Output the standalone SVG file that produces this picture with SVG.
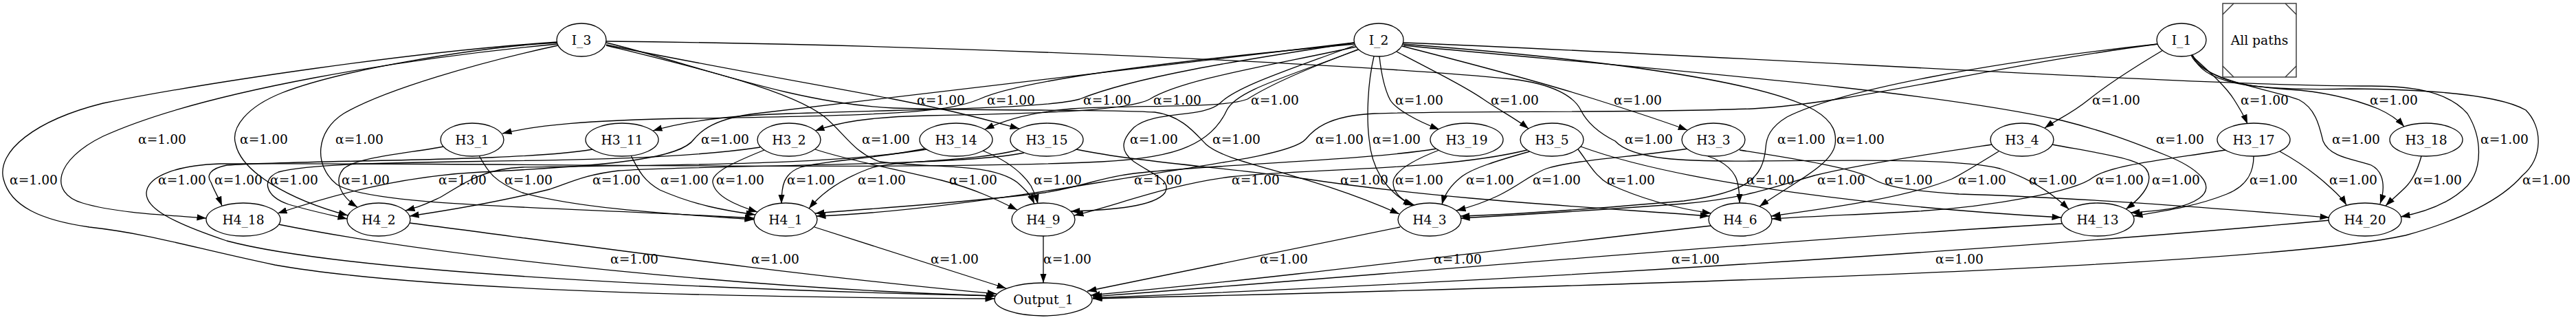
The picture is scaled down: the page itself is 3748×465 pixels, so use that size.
<svg xmlns="http://www.w3.org/2000/svg" width="3748" height="465" viewBox="0 0 3748 465">
<defs>
<marker id="a" viewBox="0 0 14 10" refX="13.5" refY="5" markerWidth="14" markerHeight="10" markerUnits="userSpaceOnUse" orient="auto"><path d="M0,0.3 L13.5,5 L0,9.7 z" fill="#000"/></marker>
<style>
.e path{fill:none;stroke:#000;stroke-width:1.3;marker-end:url(#a)}
text{font-family:"DejaVu Serif","Liberation Serif",serif;font-size:18.67px;text-anchor:middle;fill:#000}
.n ellipse{fill:#fff;stroke:#000;stroke-width:1.3}
</style>
</defs>
<rect width="3748" height="465" fill="#fff"/>
<g id="connectors" class="e">
<g id="e_I_3_H3_15"><path d="M882,65 C1000,90 1200,125 1300,144 S1450,178 1483,187"/><text x="1369" y="152">α=1.00</text></g>
<g id="e_I_2_H3_1"><path d="M1971,64 C1800,80 1500,110 1425,144 C1380,163 1300,168 1000,172 C850,175 780,182 731,194"/><text x="1471" y="152">α=1.00</text></g>
<g id="e_I_2_H3_11"><path d="M1971,62 C1800,88 1650,112 1571,144 C1520,158 1350,158 1150,165 C1050,168 990,178 950,190"/><text x="1611" y="152">α=1.00</text></g>
<g id="e_I_2_H3_2"><path d="M1973,68 C1850,95 1720,115 1673,144 C1640,162 1500,165 1350,168 C1260,170 1220,178 1186,190"/><text x="1713" y="152">α=1.00</text></g>
<g id="e_I_2_H3_14"><path d="M1977,72 C1900,100 1850,122 1815,144 C1780,158 1650,152 1560,158 C1500,163 1460,175 1433,188"/><text x="1855" y="152">α=1.00</text></g>
<g id="e_I_2_H3_19"><path d="M2007,82 C2010,110 2015,130 2022,144 S2062,176 2094,188"/><text x="2065" y="152">α=1.00</text></g>
<g id="e_I_2_H3_5"><path d="M2032,75 C2090,105 2135,128 2158,144 S2205,172 2224,187"/><text x="2204" y="152">α=1.00</text></g>
<g id="e_I_2_H3_3"><path d="M2040,67 C2150,95 2260,125 2320,144 S2420,176 2455,189"/><text x="2383" y="152">α=1.00</text></g>
<g id="e_I_1_H3_4"><path d="M3147,73 C3110,95 3070,120 3040,144 S2995,172 2975,186"/><text x="3079" y="152">α=1.00</text></g>
<g id="e_I_1_H3_17"><path d="M3188,80 C3215,105 3238,125 3250,144 S3266,170 3270,180"/><text x="3295" y="152">α=1.00</text></g>
<g id="e_I_1_H3_18"><path d="M3190,80 C3210,115 3260,125 3330,130 C3380,133 3420,142 3460,158 C3478,166 3490,175 3498,184"/><text x="3483" y="152">α=1.00</text></g>
<g id="e_I_3_H4_18"><path d="M811,64 C600,84 300,130 150,198 C80,232 70,280 120,295 C170,310 250,313 300,317"/><text x="236" y="209">α=1.00</text></g>
<g id="e_I_3_H4_2"><path d="M812,62 C700,68 500,100 410,135 C360,155 335,185 343,210 C352,250 420,290 506,313"/><text x="384" y="209">α=1.00</text></g>
<g id="e_I_3_H4_1"><path d="M812,66 C700,90 560,130 500,165 C460,190 455,240 490,268 C540,300 800,300 1097,317"/><text x="523" y="209">α=1.00</text></g>
<g id="e_I_2_H4_18"><path d="M1970,62 C1700,95 1300,140 1100,165 C1040,172 1020,190 1010,202 C990,230 900,240 700,250 C580,256 480,285 404,310"/><text x="1055" y="209">α=1.00</text></g>
<g id="e_I_3_H4_9"><path d="M882,66 C1000,95 1150,130 1200,170 C1230,195 1240,220 1280,235 C1350,245 1440,235 1480,265 C1495,278 1500,285 1505,296"/><text x="1289" y="209">α=1.00</text></g>
<g id="e_I_2_H4_9"><path d="M1971,66 C1880,100 1800,125 1775,150 C1750,172 1680,160 1650,185 C1630,205 1630,220 1650,235 C1680,255 1705,262 1695,280 C1680,300 1620,305 1558,307"/><text x="1679" y="209">α=1.00</text></g>
<g id="e_I_3_H4_3"><path d="M882,62 C1000,90 1150,150 1300,157 C1450,162 1600,158 1680,163 C1720,168 1740,195 1755,210 C1790,240 1900,250 2036,311"/><text x="1799" y="209">α=1.00</text></g>
<g id="e_I_1_H4_1"><path d="M3140,64 C2900,95 2700,150 2550,158 C2350,165 2150,160 2000,165 C1930,168 1910,190 1900,202 C1880,225 1750,240 1600,265 C1450,290 1300,310 1188,314"/><text x="1949" y="209">α=1.00</text></g>
<g id="e_I_2_H4_3"><path d="M1999,82 C1990,120 1988,170 1992,202 C1996,250 2020,280 2055,299"/><text x="2032" y="209">α=1.00</text></g>
<g id="e_I_3_H4_13"><path d="M882,60 C1400,65 2000,95 2200,115 C2260,122 2290,140 2300,160 C2310,180 2330,195 2350,205 C2375,232 2450,235 2550,234 C2700,233 2850,230 2910,245 C2950,258 2985,280 3010,304"/><text x="2399" y="209">α=1.00</text></g>
<g id="e_I_1_H4_3"><path d="M3139,64 C2900,90 2680,130 2600,170 C2575,185 2570,200 2569,215 C2565,260 2540,280 2450,292 C2300,305 2200,312 2125,314"/><text x="2621" y="209">α=1.00</text></g>
<g id="e_I_2_H4_6"><path d="M2041,64 C2250,80 2550,110 2640,160 C2670,178 2672,195 2670,210 C2665,240 2610,265 2560,300"/><text x="2707" y="209">α=1.00</text></g>
<g id="e_I_2_H4_13"><path d="M2042,66 C2400,100 2800,130 3000,175 C3060,190 3100,205 3150,225 C3200,245 3225,270 3200,288 C3180,302 3150,306 3100,309"/><text x="3172" y="209">α=1.00</text></g>
<g id="e_I_1_H4_20"><path d="M3188,80 C3205,118 3300,128 3345,145 C3370,158 3375,185 3380,205 C3390,230 3430,232 3450,240 C3470,250 3470,275 3463,296"/><text x="3428" y="209">α=1.00</text></g>
<g id="e_I_2_H4_20"><path d="M2042,62 C2600,85 3200,125 3450,125 C3500,125 3560,130 3590,165 C3612,200 3612,245 3590,270 C3565,295 3530,308 3493,315"/><text x="3644" y="209">α=1.00</text></g>
<g id="e_I_3_Output_1"><path d="M811,61 C600,75 300,120 150,150 C50,175 -5,220 5,260 C15,300 60,320 130,330 C220,340 280,360 400,385 C600,420 1000,432 1447,434"/><text x="49" y="268">α=1.00</text></g>
<g id="e_I_2_Output_1"><path d="M1975,72 C1880,110 1800,130 1785,160 C1760,215 1700,232 1580,236 C1300,248 700,236 320,238 C260,240 215,255 213,280 C212,300 240,320 330,350 C500,395 1000,420 1448,430"/><text x="265" y="268">α=1.00</text></g>
<g id="e_I_1_Output_1"><path d="M3190,80 C3205,118 3260,133 3420,129 C3550,130 3640,140 3675,160 C3700,185 3700,230 3670,255 C3640,290 3580,320 3500,342 C3300,385 2500,412 1590,434"/><text x="3705" y="268">α=1.00</text></g>
<g id="e_H3_11_H4_18"><path d="M862,217 C760,235 450,232 330,240 C305,245 300,255 307,265 C312,278 318,287 323,299"/><text x="347" y="268">α=1.00</text></g>
<g id="e_H3_2_H4_2"><path d="M1106,214 C900,245 500,225 405,250 C380,260 385,285 420,297 C450,306 475,311 505,318"/><text x="428" y="268">α=1.00</text></g>
<g id="e_H3_1_H4_2"><path d="M645,213 C600,222 520,228 500,245 C485,262 495,285 520,301"/><text x="532" y="268">α=1.00</text></g>
<g id="e_H3_14_H4_2"><path d="M1348,217 C1200,242 900,240 760,243 C700,245 670,270 640,287 C620,296 612,300 590,306"/><text x="673" y="268">α=1.00</text></g>
<g id="e_H3_1_H4_1"><path d="M697,226 C710,250 720,265 760,280 C850,305 1000,312 1097,319"/><text x="769" y="268">α=1.00</text></g>
<g id="e_H3_15_H4_2"><path d="M1490,222 C1400,242 1000,240 900,248 C850,254 830,265 800,275 C720,295 650,306 596,314"/><text x="897" y="268">α=1.00</text></g>
<g id="e_H3_11_H4_1"><path d="M918,226 C928,245 935,262 960,276 C1010,298 1055,306 1099,312"/><text x="996" y="268">α=1.00</text></g>
<g id="e_H3_2_H4_1"><path d="M1112,218 C1070,235 1035,250 1037,265 C1040,285 1070,298 1102,308"/><text x="1077" y="268">α=1.00</text></g>
<g id="e_H3_14_H4_1"><path d="M1345,216 C1280,230 1200,233 1165,243 C1140,252 1137,270 1137,296"/><text x="1180" y="268">α=1.00</text></g>
<g id="e_H3_15_H4_1"><path d="M1481,218 C1410,236 1300,232 1265,245 C1230,258 1200,275 1177,303"/><text x="1283" y="268">α=1.00</text></g>
<g id="e_H3_2_H4_9"><path d="M1186,217 C1230,232 1300,245 1370,262 C1420,275 1450,290 1480,305"/><text x="1416" y="268">α=1.00</text></g>
<g id="e_H3_14_H4_9"><path d="M1430,219 C1470,235 1490,255 1500,270 C1505,280 1508,287 1510,296"/><text x="1539" y="268">α=1.00</text></g>
<g id="e_H3_19_H4_1"><path d="M2090,216 C2000,232 1750,240 1650,252 C1600,258 1580,270 1520,280 C1400,295 1280,302 1186,310"/><text x="1685" y="268">α=1.00</text></g>
<g id="e_H3_5_H4_9"><path d="M2222,218 C2100,248 1900,245 1790,257 C1700,268 1620,300 1563,313"/><text x="1827" y="268">α=1.00</text></g>
<g id="e_H3_15_H4_6"><path d="M1566,217 C1650,235 1800,245 1900,260 C2100,290 2300,300 2487,314"/><text x="1985" y="268">α=1.00</text></g>
<g id="e_H3_19_H4_3"><path d="M2094,218 C2050,235 2028,250 2027,265 C2027,280 2040,292 2058,298"/><text x="2065" y="268">α=1.00</text></g>
<g id="e_H3_5_H4_3"><path d="M2226,220 C2180,233 2140,245 2125,258 C2110,270 2102,282 2098,297"/><text x="2168" y="268">α=1.00</text></g>
<g id="e_H3_3_H4_3"><path d="M2456,216 C2380,228 2290,232 2250,245 C2215,258 2200,285 2119,306"/><text x="2265" y="268">α=1.00</text></g>
<g id="e_H3_5_H4_6"><path d="M2296,217 C2310,235 2320,255 2340,267 C2390,290 2440,303 2490,310"/><text x="2373" y="268">α=1.00</text></g>
<g id="e_H3_3_H4_6"><path d="M2485,227 C2510,235 2525,250 2528,265 C2531,278 2531,287 2531,295"/><text x="2576" y="268">α=1.00</text></g>
<g id="e_H3_4_H4_3"><path d="M2898,210 C2800,225 2700,240 2640,255 C2580,272 2540,288 2450,296 C2300,307 2200,313 2125,317"/><text x="2679" y="268">α=1.00</text></g>
<g id="e_H3_3_H4_20"><path d="M2531,218 C2620,232 2700,245 2725,260 C2745,272 2780,277 2850,282 C3050,288 3250,305 3389,316"/><text x="2777" y="268">α=1.00</text></g>
<g id="e_H3_4_H4_6"><path d="M2908,220 C2880,237 2860,250 2840,260 C2780,285 2680,300 2577,314"/><text x="2884" y="268">α=1.00</text></g>
<g id="e_H3_5_H4_13"><path d="M2300,213 C2450,268 2750,302 2999,316"/><text x="2987" y="268">α=1.00</text></g>
<g id="e_H3_17_H4_6"><path d="M3238,218 C3150,232 3070,240 3045,258 C3020,278 2900,300 2790,307 C2700,312 2640,314 2578,318"/><text x="3084" y="268">α=1.00</text></g>
<g id="e_H3_4_H4_13"><path d="M2986,210 C3050,222 3110,230 3122,245 C3132,258 3128,278 3093,304"/><text x="3166" y="268">α=1.00</text></g>
<g id="e_H3_17_H4_13"><path d="M3279,227 C3279,250 3270,270 3240,282 C3200,298 3160,305 3104,314"/><text x="3308" y="268">α=1.00</text></g>
<g id="e_H3_17_H4_20"><path d="M3317,220 C3350,238 3375,258 3390,272 C3400,281 3408,288 3414,298"/><text x="3424" y="268">α=1.00</text></g>
<g id="e_H3_18_H4_20"><path d="M3523,227 C3518,245 3510,262 3500,272 C3490,282 3480,290 3471,299"/><text x="3547" y="268">α=1.00</text></g>
<g id="e_H4_18_Output_1"><path d="M405,326 C650,375 1100,420 1449,430"/><text x="923" y="383">α=1.00</text></g>
<g id="e_H4_2_Output_1"><path d="M596,324 C800,350 1150,400 1450,427"/><text x="1128" y="383">α=1.00</text></g>
<g id="e_H4_1_Output_1"><path d="M1185,330 L1464,419"/><text x="1389" y="383">α=1.00</text></g>
<g id="e_H4_9_Output_1"><path d="M1518,343 L1518,411"/><text x="1553" y="383">α=1.00</text></g>
<g id="e_H4_3_Output_1"><path d="M2037,330 L1582,423"/><text x="1868" y="383">α=1.00</text></g>
<g id="e_H4_6_Output_1"><path d="M2490,328 C2200,360 1900,400 1587,429"/><text x="2121" y="383">α=1.00</text></g>
<g id="e_H4_13_Output_1"><path d="M3000,325 C2600,348 2000,400 1590,431"/><text x="2467" y="383">α=1.00</text></g>
<g id="e_H4_20_Output_1"><path d="M3390,320 C3100,347 2400,400 1590,433"/><text x="2851" y="383">α=1.00</text></g>
</g>
<g id="nodes">
<g id="I_3" class="n"><ellipse cx="846" cy="58" rx="36" ry="24"/><text x="846" y="65">I_3</text></g>
<g id="I_2" class="n"><ellipse cx="2006" cy="58" rx="36" ry="24"/><text x="2006" y="65">I_2</text></g>
<g id="I_1" class="n"><ellipse cx="3174" cy="58" rx="36" ry="24"/><text x="3174" y="65">I_1</text></g>
<g id="all_paths"><rect x="3234" y="5" width="107" height="107" fill="#fff" stroke="#333" stroke-width="1.4"/><path d="M3234,21 L3250,5 M3325,5 L3341,21 M3234,96 L3250,112 M3325,112 L3341,96" stroke="#333" stroke-width="1.4" fill="none"/><text x="3287.5" y="65">All paths</text></g>
<g id="H3_1" class="n"><ellipse cx="687" cy="203" rx="46" ry="24"/><text x="687" y="210">H3_1</text></g>
<g id="H3_11" class="n"><ellipse cx="905" cy="203" rx="53" ry="24"/><text x="905" y="210">H3_11</text></g>
<g id="H3_2" class="n"><ellipse cx="1148" cy="203" rx="46" ry="24"/><text x="1148" y="210">H3_2</text></g>
<g id="H3_14" class="n"><ellipse cx="1391" cy="203" rx="53" ry="24"/><text x="1391" y="210">H3_14</text></g>
<g id="H3_15" class="n"><ellipse cx="1523" cy="203" rx="53" ry="24"/><text x="1523" y="210">H3_15</text></g>
<g id="H3_19" class="n"><ellipse cx="2134" cy="203" rx="53" ry="24"/><text x="2134" y="210">H3_19</text></g>
<g id="H3_5" class="n"><ellipse cx="2258" cy="203" rx="46" ry="24"/><text x="2258" y="210">H3_5</text></g>
<g id="H3_3" class="n"><ellipse cx="2493" cy="203" rx="46" ry="24"/><text x="2493" y="210">H3_3</text></g>
<g id="H3_4" class="n"><ellipse cx="2942" cy="203" rx="46" ry="24"/><text x="2942" y="210">H3_4</text></g>
<g id="H3_17" class="n"><ellipse cx="3279" cy="203" rx="53" ry="24"/><text x="3279" y="210">H3_17</text></g>
<g id="H3_18" class="n"><ellipse cx="3530" cy="203" rx="53" ry="24"/><text x="3530" y="210">H3_18</text></g>
<g id="H4_18" class="n"><ellipse cx="354" cy="319" rx="54" ry="24"/><text x="354" y="326">H4_18</text></g>
<g id="H4_2" class="n"><ellipse cx="551" cy="319" rx="46" ry="24"/><text x="551" y="326">H4_2</text></g>
<g id="H4_1" class="n"><ellipse cx="1143" cy="319" rx="46" ry="24"/><text x="1143" y="326">H4_1</text></g>
<g id="H4_9" class="n"><ellipse cx="1518" cy="319" rx="46" ry="24"/><text x="1518" y="326">H4_9</text></g>
<g id="H4_3" class="n"><ellipse cx="2080" cy="319" rx="46" ry="24"/><text x="2080" y="326">H4_3</text></g>
<g id="H4_6" class="n"><ellipse cx="2532" cy="319" rx="46" ry="24"/><text x="2532" y="326">H4_6</text></g>
<g id="H4_13" class="n"><ellipse cx="3052" cy="319" rx="53" ry="24"/><text x="3052" y="326">H4_13</text></g>
<g id="H4_20" class="n"><ellipse cx="3441" cy="319" rx="53" ry="24"/><text x="3441" y="326">H4_20</text></g>
<g id="Output_1" class="n"><ellipse cx="1518" cy="435" rx="71" ry="24"/><text x="1518" y="442">Output_1</text></g>
</g>
</svg>
